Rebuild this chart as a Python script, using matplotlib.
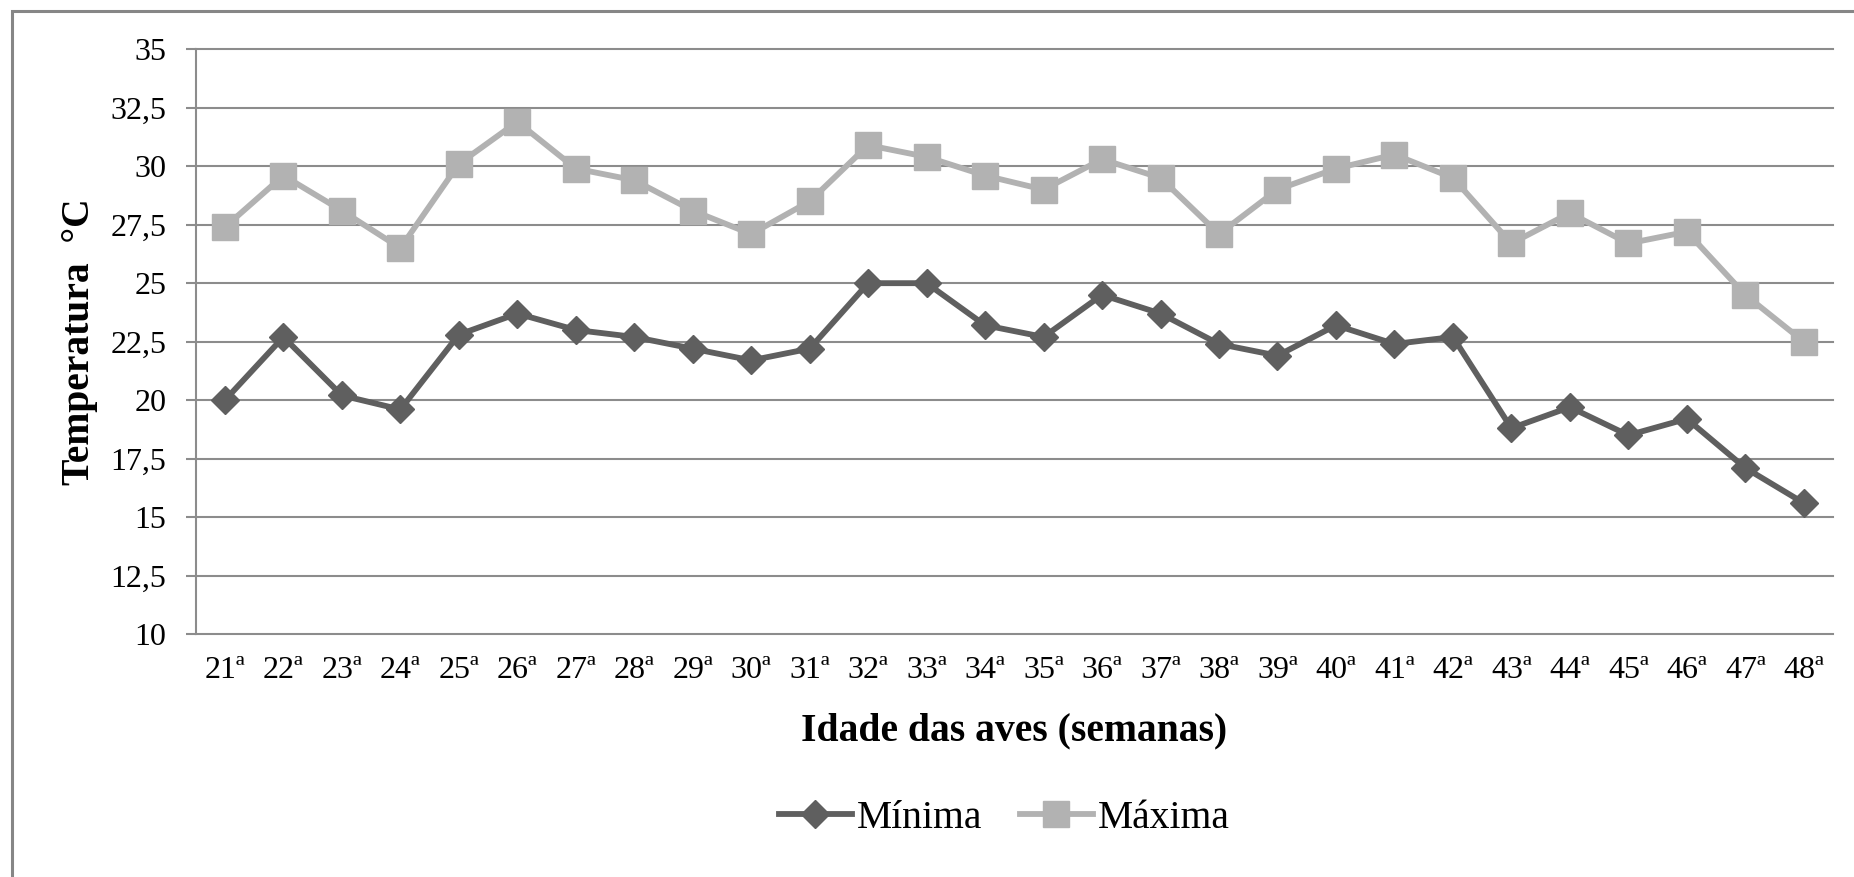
import matplotlib
matplotlib.use("Agg")
import matplotlib.pyplot as plt
from matplotlib.patches import Rectangle

# temperaturas semanais (ºC) por idade das aves
semanas = ["%dª" % s for s in range(21, 49)]
minima = [20.0, 22.7, 20.2, 19.6, 22.8, 23.7, 23.0, 22.7, 22.2, 21.7,
          22.2, 25.0, 25.0, 23.2, 22.7, 24.5, 23.7, 22.4, 21.9, 23.2,
          22.4, 22.7, 18.8, 19.7, 18.5, 19.2, 17.1, 15.6]
maxima = [27.4, 29.6, 28.1, 26.5, 30.1, 31.9, 29.9, 29.4, 28.1, 27.1,
          28.5, 30.9, 30.4, 29.6, 29.0, 30.3, 29.5, 27.1, 29.0, 29.9,
          30.5, 29.5, 26.7, 28.0, 26.7, 27.2, 24.5, 22.5]
yticks = [10, 12.5, 15, 17.5, 20, 22.5, 25, 27.5, 30, 32.5, 35]

plt.rcParams['font.family'] = ['Liberation Serif', 'DejaVu Serif']

W, H = 1854, 877
fig = plt.figure(figsize=(W / 100, H / 100), dpi=100)
fig.patch.set_facecolor("white")

# moldura cinza do gráfico
fig.patches.append(Rectangle((12 / W, -0.1), 1.1, 1.1 - 11 / H,
                             transform=fig.transFigure, fill=False,
                             edgecolor="#868686", linewidth=2.2))

ax = fig.add_axes([195.7 / W, 1 - 634 / H, (1833 - 195.7) / W, (634 - 49.3) / H])

x = list(range(len(semanas)))
ax.plot(x, minima, color="#5f5f5f", lw=4.2, marker="D", ms=14.5,
        label="Mínima", zorder=3)
ax.plot(x, maxima, color="#b2b2b2", lw=4.2, marker="s", ms=18.5,
        label="Máxima", zorder=3)

ax.set_xlim(-0.5, len(semanas) - 0.5)
ax.set_ylim(10, 35)
ax.set_xticks(x)
ax.set_xticklabels(semanas)
ax.set_yticks(yticks)
ax.set_yticklabels([("%g" % v).replace(".", ",") for v in yticks])

ax.grid(axis="y", color="#8c8c8c", lw=1.5)
for gl in ax.get_ygridlines():
    gl.set_clip_on(False)
ax.set_axisbelow(True)

for s in ["top", "right", "bottom"]:
    ax.spines[s].set_visible(False)
ax.spines["left"].set_color("#8c8c8c")
ax.spines["left"].set_linewidth(1.5)

ax.tick_params(axis="y", direction="out", length=7.2, width=1.5,
               color="#8c8c8c", pad=14, labelsize=23)
ax.tick_params(axis="x", length=0, pad=16, labelsize=23)

ax.set_xlabel("Idade das aves (semanas)", fontsize=28.5, fontweight="bold",
              va="center")
ax.xaxis.set_label_coords(0.5, (634 - 731) / (634 - 49.3))
ax.set_ylabel("Temperatura  °C", fontsize=28.5, fontweight="bold",
              va="center", ha="center")
ax.yaxis.set_label_coords((79 - 195.7) / (1833 - 195.7), (634 - 342) / (634 - 49.3))

fig.legend(loc="center", bbox_to_anchor=(1004 / W, 1 - 818 / H), ncol=2,
           frameon=False, fontsize=28.5, handlelength=1.85,
           handletextpad=0.12, columnspacing=0.95)

fig.savefig("out.png", dpi=100)
